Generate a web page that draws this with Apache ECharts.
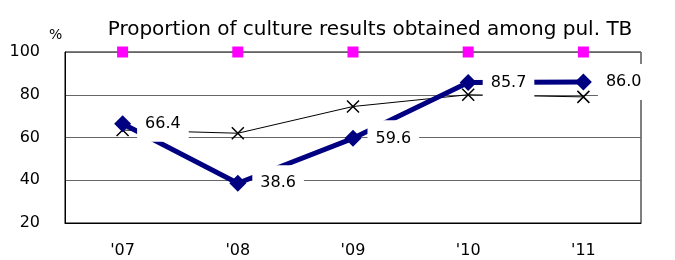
<!DOCTYPE html>
<html>
<head>
<meta charset="utf-8">
<script src="https://cdn.jsdelivr.net/npm/echarts@6/dist/echarts.min.js"></script>
<style>
  html, body { margin: 0; padding: 0; background: #fff; }
  #chart { width: 675px; height: 260px; }
</style>
</head>
<body>
<div id="chart"></div>
<script>
// data
var years = ["'07", "'08", "'09", "'10", "'11"];
var topLevel = [100, 100, 100, 100, 100];
var otherSeries = [63.5, 62, 74.5, 80, 79];
var pulTB = [66.4, 38.6, 59.6, 85.7, 86.0];
var yTicks = { min: 20, max: 100, step: 20 };

var font = 'DejaVu Sans, Verdana, sans-serif';
var chart = echarts.init(document.getElementById('chart'));
chart.setOption({
  animation: false,
  textStyle: { fontFamily: font },
  title: [
    {
      text: 'Proportion of culture results obtained among pul. TB',
      left: 365, top: 15, textAlign: 'center',
      textStyle: { fontSize: 20, fontWeight: 'normal', color: '#000', fontFamily: font }
    },
    {
      text: '%', left: 44, top: 23,
      textStyle: { fontSize: 14, fontWeight: 'normal', color: '#000', fontFamily: font }
    }
  ],
  grid: {
    left: 65, right: 34, top: 52, bottom: 37,
    show: true, borderColor: '#000', borderWidth: 1, backgroundColor: 'transparent'
  },
  xAxis: {
    type: 'category',
    data: years,
    boundaryGap: true,
    axisLine: { lineStyle: { color: '#000', width: 1 } },
    axisTick: { inside: true, length: 5, lineStyle: { color: '#000' } },
    axisLabel: { color: '#000', fontSize: 16, margin: 20, fontFamily: font }
  },
  yAxis: {
    type: 'value',
    min: yTicks.min, max: yTicks.max, interval: yTicks.step,
    axisLine: { show: true, lineStyle: { color: '#000' } },
    axisTick: { show: false },
    axisLabel: { color: '#000', fontSize: 16, margin: 25, fontFamily: font },
    splitLine: { lineStyle: { color: '#666', width: 1 } }
  },
  series: [
    {
      type: 'line',
      data: topLevel,
      symbol: 'rect',
      symbolSize: 11,
      lineStyle: { opacity: 0 },
      itemStyle: { color: '#ff00ff' },
      z: 3
    },
    {
      type: 'line',
      data: otherSeries,
      symbol: 'path://M0,0L10,10M10,0L0,10',
      symbolSize: 12,
      showAllSymbol: true,
      lineStyle: { color: '#000', width: 1 },
      itemStyle: { color: 'none', borderColor: '#000', borderWidth: 1.5 },
      z: 3
    },
    {
      type: 'line',
      data: pulTB,
      symbol: 'diamond',
      symbolSize: 17,
      lineStyle: { color: '#000080', width: 5 },
      itemStyle: { color: '#000080' },
      label: {
        show: true,
        position: 'right',
        distance: 6,
        color: '#000',
        fontSize: 16,
        fontFamily: font,
        backgroundColor: '#fff',
        padding: [10, 8],
        formatter: function (p) { return p.value.toFixed(1); }
      },
      z: 4
    }
  ]
});
</script>
</body>
</html>
